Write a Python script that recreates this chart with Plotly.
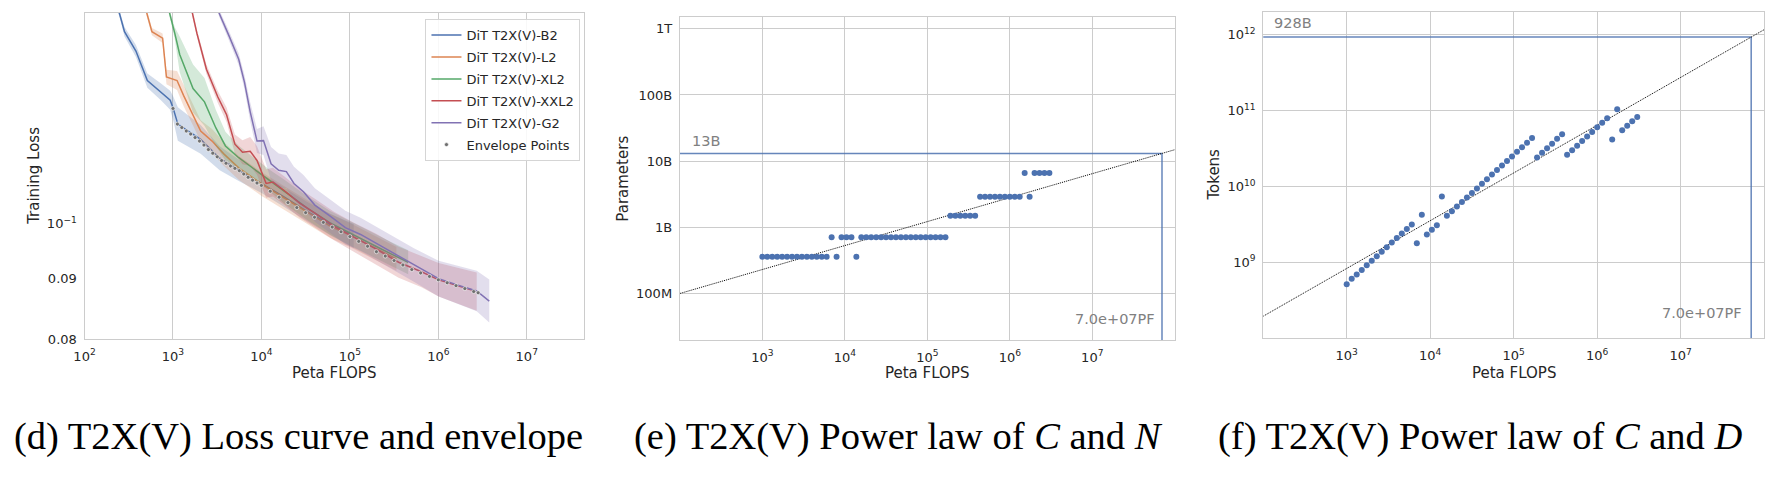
import math
import plotly.graph_objects as go

# ---------------- Panel (d): loss curves ----------------
b2_flops = [210, 247, 283, 381, 513, 726, 930, 1007, 1135, 2056, 3375, 5534, 10050, 18200, 32960, 59840, 110400]
b2_loss = [0.1557, 0.1501, 0.1447, 0.1394, 0.1317, 0.1289, 0.1268, 0.1248, 0.1211, 0.1176, 0.1134, 0.1108, 0.1080, 0.1052, 0.1023, 0.0998, 0.0976]
b2_spread = [0.003, 0.003, 0.004, 0.005, 0.006, 0.007, 0.008, 0.010, 0.014, 0.012, 0.010, 0.009, 0.008, 0.008, 0.008, 0.009, 0.010]

l2_flops = [465, 504, 578, 763, 843, 1112, 1316, 1686, 2056, 2768, 3727, 5534, 10050, 18200, 32960, 59840, 108400, 196300, 335700]
l2_loss = [0.1557, 0.1501, 0.1447, 0.1429, 0.1326, 0.1317, 0.1280, 0.1233, 0.1195, 0.1172, 0.1144, 0.1113, 0.1079, 0.1050, 0.1022, 0.0995, 0.0975, 0.0953, 0.0934]
l2_spread = [0.003, 0.003, 0.003, 0.004, 0.006, 0.008, 0.009, 0.009, 0.009, 0.010, 0.010, 0.010, 0.010, 0.010, 0.010, 0.010, 0.010, 0.010, 0.010]

xl2_flops = [843, 912, 1047, 1191, 1686, 2270, 3055, 3917, 5534, 8240, 12250, 18200, 32960, 59840, 108400, 196300, 291700, 456000]
xl2_loss = [0.1557, 0.1501, 0.1443, 0.1385, 0.1297, 0.1264, 0.1202, 0.1161, 0.1135, 0.1111, 0.1087, 0.1063, 0.1030, 0.1001, 0.0978, 0.0957, 0.0943, 0.0928]
xl2_spread = [0.003, 0.003, 0.005, 0.015, 0.020, 0.020, 0.015, 0.012, 0.010, 0.009, 0.009, 0.010, 0.010, 0.010, 0.010, 0.010, 0.010, 0.010]

xxl2_flops = [1527, 1652, 1862, 2388, 3214, 4036, 5012, 6109, 7464, 8913, 11300, 13520, 18200, 27040, 40180, 66070, 108400, 196300, 355600, 645700, 1007000, 1738000, 2716000]
xxl2_loss = [0.1557, 0.1501, 0.1443, 0.1346, 0.1276, 0.1233, 0.1165, 0.1147, 0.1149, 0.1129, 0.1080, 0.1083, 0.1065, 0.1040, 0.1020, 0.0995, 0.0975, 0.0952, 0.0928, 0.0911, 0.0897, 0.0886, 0.0877]
xxl2_spread = [0.003, 0.003, 0.003, 0.004, 0.005, 0.006, 0.008, 0.010, 0.012, 0.012, 0.012, 0.012, 0.012, 0.012, 0.012, 0.012, 0.012, 0.013, 0.013, 0.013, 0.014, 0.015, 0.016]

g2_flops = [3055, 3311, 4325, 5534, 6427, 7464, 8913, 10550, 12850, 15670, 19140, 23330, 29870, 40180, 59840, 88920, 132100, 196300, 291700, 529700, 1007000, 1738000, 2716000, 3767000]
g2_loss = [0.1557, 0.1501, 0.1434, 0.1372, 0.1313, 0.1240, 0.1172, 0.1173, 0.1122, 0.1108, 0.1105, 0.1080, 0.1063, 0.1036, 0.1014, 0.0992, 0.0979, 0.0963, 0.0947, 0.0923, 0.0899, 0.0887, 0.0878, 0.0861]
g2_spread = [0.003, 0.003, 0.004, 0.005, 0.006, 0.008, 0.010, 0.012, 0.014, 0.014, 0.014, 0.014, 0.014, 0.014, 0.014, 0.014, 0.014, 0.014, 0.014, 0.014, 0.015, 0.016, 0.017, 0.018]

env_flops = [1000, 1122, 1259, 1413, 1585, 1778, 1995, 2239, 2512, 2818, 3162, 3548, 3981, 4467, 5012, 5623,
             6310, 7079, 7943, 8913, 10000, 12590, 15850, 19950, 25120, 31620, 39810, 50120, 63100, 79430,
             100000, 125900, 158500, 199500, 251200, 316200, 398100, 501200, 631000, 794300, 1000000,
             1259000, 1585000, 1995000, 2512000, 2818000]
env_loss = [0.1248, 0.1211, 0.1203, 0.1195, 0.1188, 0.1180, 0.1172, 0.1163, 0.1153, 0.1145, 0.1137, 0.1129,
            0.1123, 0.1117, 0.1112, 0.1107, 0.1100, 0.1093, 0.1087, 0.1081, 0.1076, 0.1064, 0.1052, 0.1041,
            0.1031, 0.1021, 0.1012, 0.1002, 0.0993, 0.0984, 0.0975, 0.0966, 0.0957, 0.0947, 0.0939, 0.0931,
            0.0923, 0.0915, 0.0909, 0.0903, 0.0897, 0.0892, 0.0887, 0.0882, 0.0877, 0.0875]

series_names = ["DiT T2X(V)-B2", "DiT T2X(V)-L2", "DiT T2X(V)-XL2", "DiT T2X(V)-XXL2", "DiT T2X(V)-G2"]
series_colors = ["#4C72B0", "#DD8452", "#55A868", "#C44E52", "#8172B3"]
series_fill = ["rgba(76,114,176,0.25)", "rgba(221,132,82,0.25)", "rgba(85,168,104,0.25)",
               "rgba(196,78,82,0.23)", "rgba(129,114,179,0.23)"]

# ---------------- Panels (e), (f): envelope points ----------------
compute_pf = [1000, 1148, 1318, 1514, 1738, 1995, 2291, 2630, 3020, 3467, 3981, 4571, 5248, 6026, 6918, 7943,
              9120, 10470, 12020, 13800, 15850, 18200, 20890, 23990, 27540, 31620, 36310, 41690, 47860, 54950,
              63100, 72440, 83180, 95500, 109600, 125900, 144500, 166000, 190500, 218800, 251200, 288400,
              331100, 380200, 436500, 501200, 575400, 660700, 758600, 871000, 1000000, 1148000, 1318000,
              1514000, 1738000, 1995000, 2291000, 2630000, 3020000]
params = [3.6e8, 3.6e8, 3.6e8, 3.6e8, 3.6e8, 3.6e8, 3.6e8, 3.6e8, 3.6e8, 3.6e8, 3.6e8, 3.6e8, 3.6e8, 3.6e8,
          7.1e8, 3.6e8, 7.1e8, 7.1e8, 7.1e8, 3.6e8, 7.1e8, 7.1e8, 7.1e8, 7.1e8, 7.1e8, 7.1e8, 7.1e8, 7.1e8,
          7.1e8, 7.1e8, 7.1e8, 7.1e8, 7.1e8, 7.1e8, 7.1e8, 7.1e8, 7.1e8, 7.1e8, 1.5e9, 1.5e9, 1.5e9, 1.5e9,
          1.5e9, 1.5e9, 2.9e9, 2.9e9, 2.9e9, 2.9e9, 2.9e9, 2.9e9, 2.9e9, 2.9e9, 2.9e9, 6.6e9, 2.9e9, 6.6e9,
          6.6e9, 6.6e9, 6.6e9]
tokens = [5.14e8, 6.08e8, 6.92e8, 7.94e8, 9.12e8, 1.047e9, 1.20e9, 1.38e9, 1.585e9, 1.82e9, 2.09e9, 2.40e9,
          2.75e9, 3.16e9, 1.78e9, 4.23e9, 2.33e9, 2.69e9, 3.09e9, 7.36e9, 4.10e9, 4.71e9, 5.42e9, 6.22e9,
          7.14e9, 8.20e9, 9.42e9, 1.08e10, 1.245e10, 1.43e10, 1.64e10, 1.88e10, 2.16e10, 2.48e10, 2.86e10,
          3.28e10, 3.77e10, 4.33e10, 2.41e10, 2.77e10, 3.18e10, 3.66e10, 4.24e10, 4.88e10, 2.61e10, 3.00e10,
          3.44e10, 3.95e10, 4.54e10, 5.22e10, 6.00e10, 6.89e10, 7.91e10, 4.16e10, 1.04e11, 5.48e10, 6.30e10,
          7.23e10, 8.22e10]

fit_compute = [1e2, 1e8]
fit_params = [1.0e8, 1.49e10]
fit_tokens = [1.95e8, 1.16e12]

ref_compute = 7.0e7
ref_params = 1.3e10
ref_tokens = 9.28e11
ref_compute_label = "7.0e+07PF"
ref_params_label = "13B"
ref_tokens_label = "928B"

d_xticks = [1e2, 1e3, 1e4, 1e5, 1e6, 1e7]
d_xtext = ["10<sup>2</sup>", "10<sup>3</sup>", "10<sup>4</sup>", "10<sup>5</sup>", "10<sup>6</sup>", "10<sup>7</sup>"]
d_yticks = [0.08, 0.09, 0.1]
d_ytext = ["0.08", "0.09", "10<sup>−1</sup>"]
ef_xticks = [1e3, 1e4, 1e5, 1e6, 1e7]
ef_xtext = ["10<sup>3</sup>", "10<sup>4</sup>", "10<sup>5</sup>", "10<sup>6</sup>", "10<sup>7</sup>"]
e_yticks = [1e8, 1e9, 1e10, 1e11, 1e12]
e_ytext = ["100M", "1B", "10B", "100B", "1T"]
f_yticks = [1e9, 1e10, 1e11, 1e12]
f_ytext = ["10<sup>9</sup>", "10<sup>10</sup>", "10<sup>11</sup>", "10<sup>12</sup>"]

captions = ["(d) T2X(V) Loss curve and envelope",
            "(e) T2X(V) Power law of <i>C</i> and <i>N</i>",
            "(f) T2X(V) Power law of <i>C</i> and <i>D</i>"]

# ---------------- Figure ----------------
W, H = 1783, 478
TXT = "#262626"
GRID = "#cccccc"
FONT = "DejaVu Sans"
SERIF = "Liberation Serif, Times New Roman, serif"

def px_x(a, b):
    return [a / W, b / W]

def px_y(top, bottom):
    return [(H - bottom) / H, (H - top) / H]

dom = {
    "d": (px_x(74, 577), px_y(13, 345)),
    "e": (px_x(673, 1171), px_y(17, 346)),
    "f": (px_x(1260, 1764), px_y(12, 344)),
}

fig = go.Figure()

all_series = [
    (b2_flops, b2_loss, b2_spread),
    (l2_flops, l2_loss, l2_spread),
    (xl2_flops, xl2_loss, xl2_spread),
    (xxl2_flops, xxl2_loss, xxl2_spread),
    (g2_flops, g2_loss, g2_spread),
]
for i, ((fx, fy, fs), name, col, fcol) in enumerate(zip(all_series, series_names, series_colors, series_fill)):
    hi = [v * 10 ** s for v, s in zip(fy, fs)]
    lo = [v * 10 ** (-s) for v, s in zip(fy, fs)]
    fig.add_trace(go.Scatter(x=fx + fx[::-1], y=hi + lo[::-1], fill="toself", fillcolor=fcol,
                             line=dict(width=0), mode="lines", showlegend=False, hoverinfo="skip",
                             xaxis="x", yaxis="y"))
    fig.add_trace(go.Scatter(x=fx, y=fy, mode="lines", name=name, line=dict(color=col, width=1.5),
                             legendgroup="g%d" % i, xaxis="x", yaxis="y"))

fig.add_trace(go.Scatter(x=env_flops, y=env_loss, mode="markers", name="Envelope Points",
                         legendgroup="env",
                         marker=dict(color="#707070", size=4, line=dict(color="white", width=0.6)),
                         xaxis="x", yaxis="y"))

REF_LINE = dict(color="#4C72B0", width=1.5)
FIT_LINE = dict(color="black", width=1, dash="1px,1px")

# Panel e
fig.add_trace(go.Scatter(x=[1e1, ref_compute], y=[ref_params, ref_params], mode="lines",
                         line=REF_LINE, opacity=0.85, showlegend=False, xaxis="x2", yaxis="y2"))
fig.add_trace(go.Scatter(x=[ref_compute, ref_compute], y=[1e6, ref_params], mode="lines",
                         line=REF_LINE, opacity=0.85, showlegend=False, xaxis="x2", yaxis="y2"))
fig.add_trace(go.Scatter(x=fit_compute, y=fit_params, mode="lines", line=FIT_LINE,
                         showlegend=False, xaxis="x2", yaxis="y2"))
fig.add_trace(go.Scatter(x=compute_pf, y=params, mode="markers", marker=dict(color="#4C72B0", size=6),
                         showlegend=False, xaxis="x2", yaxis="y2"))

# Panel f
fig.add_trace(go.Scatter(x=[1e1, ref_compute], y=[ref_tokens, ref_tokens], mode="lines",
                         line=REF_LINE, opacity=0.85, showlegend=False, xaxis="x3", yaxis="y3"))
fig.add_trace(go.Scatter(x=[ref_compute, ref_compute], y=[1e6, ref_tokens], mode="lines",
                         line=REF_LINE, opacity=0.85, showlegend=False, xaxis="x3", yaxis="y3"))
fig.add_trace(go.Scatter(x=fit_compute, y=fit_tokens, mode="lines", line=FIT_LINE,
                         showlegend=False, xaxis="x3", yaxis="y3"))
fig.add_trace(go.Scatter(x=compute_pf, y=tokens, mode="markers", marker=dict(color="#4C72B0", size=6),
                         showlegend=False, xaxis="x3", yaxis="y3"))

axis_common = dict(type="log", showline=True, mirror=True, linecolor=GRID, linewidth=1.25,
                   gridcolor=GRID, gridwidth=1, ticks="", zeroline=False,
                   tickfont=dict(family=FONT, size=13, color=TXT))
xcommon = dict(axis_common, ticklabelstandoff=5)
ycommon = dict(axis_common, ticklabelstandoff=4)

fig.update_layout(
    width=W, height=H, margin=dict(l=0, r=0, t=0, b=0),
    plot_bgcolor="white", paper_bgcolor="white",
    xaxis=dict(xcommon, domain=dom["d"][0], range=[2, 7.652], tickvals=d_xticks, ticktext=d_xtext, anchor="y"),
    yaxis=dict(ycommon, domain=dom["d"][1], range=[math.log10(0.08), -0.8237], tickvals=d_yticks,
               ticktext=d_ytext, showgrid=False, anchor="x"),
    xaxis2=dict(xcommon, domain=dom["e"][0], range=[2, 8], tickvals=ef_xticks, ticktext=ef_xtext, anchor="y2"),
    yaxis2=dict(ycommon, domain=dom["e"][1], range=[7.294, 12.183], tickvals=e_yticks, ticktext=e_ytext,
                anchor="x2"),
    xaxis3=dict(xcommon, domain=dom["f"][0], range=[2, 8], tickvals=ef_xticks, ticktext=ef_xtext, anchor="y3"),
    yaxis3=dict(ycommon, domain=dom["f"][1], range=[8.0, 12.3], tickvals=f_yticks, ticktext=f_ytext,
                anchor="x3"),
    legend=dict(x=573 / W, y=(H - 19.5) / H, xanchor="right", yanchor="top",
                bgcolor="rgba(255,255,255,0.85)", bordercolor="#d5d5d5", borderwidth=1,
                font=dict(family=FONT, size=13, color=TXT), itemwidth=30, tracegroupgap=2),
    showlegend=True,
)

# horizontal grid line at 10^-1 in panel d (matplotlib minor labels have no grid)
fig.add_shape(type="line", xref="x domain", yref="y", x0=0, x1=1, y0=-1, y1=-1,
              line=dict(color=GRID, width=1), layer="below")

ann = []
# axis titles
for key in ["d", "e", "f"]:
    xd = dom[key][0]
    ann.append(dict(text="Peta FLOPS", xref="paper", yref="paper", x=(xd[0] + xd[1]) / 2, y=(H - 379) / H,
                    xanchor="center", yanchor="middle", showarrow=False,
                    font=dict(family=FONT, size=15, color=TXT)))
for key, title, xc in [("d", "Training Loss", 23), ("e", "Parameters", 616), ("f", "Tokens", 1210)]:
    yd = dom[key][1]
    ann.append(dict(text=title, xref="paper", yref="paper", x=xc / W, y=(yd[0] + yd[1]) / 2, textangle=-90,
                    xanchor="center", yanchor="middle", showarrow=False,
                    font=dict(family=FONT, size=15, color=TXT)))

# reference labels
ann.append(dict(text=ref_params_label, xref="x2 domain", yref="y2", x=0.02, y=math.log10(ref_params),
                xanchor="left", yanchor="bottom", yshift=3, showarrow=False,
                font=dict(family=FONT, size=14.5, color="#808080")))
ann.append(dict(text=ref_compute_label, xref="x2", yref="y2 domain", x=math.log10(ref_compute), y=0.067,
                xanchor="right", yanchor="middle", xshift=-5, showarrow=False,
                font=dict(family=FONT, size=14.5, color="#808080")))
ann.append(dict(text=ref_tokens_label, xref="x3 domain", yref="y3", x=0.018, y=math.log10(ref_tokens),
                xanchor="left", yanchor="bottom", yshift=4, showarrow=False,
                font=dict(family=FONT, size=14.5, color="#808080")))
ann.append(dict(text=ref_compute_label, xref="x3", yref="y3 domain", x=math.log10(ref_compute), y=0.078,
                xanchor="right", yanchor="middle", xshift=-7, showarrow=False,
                font=dict(family=FONT, size=14.5, color="#808080")))

# captions
for cap, xc in zip(captions, [289, 893, 1478]):
    ann.append(dict(text=cap, xref="paper", yref="paper", x=xc / W, y=(H - 444) / H,
                    xanchor="center", yanchor="middle", showarrow=False,
                    font=dict(family=SERIF, size=38.5, color="black")))

fig.update_layout(annotations=ann)

fig.write_html("out.html")
